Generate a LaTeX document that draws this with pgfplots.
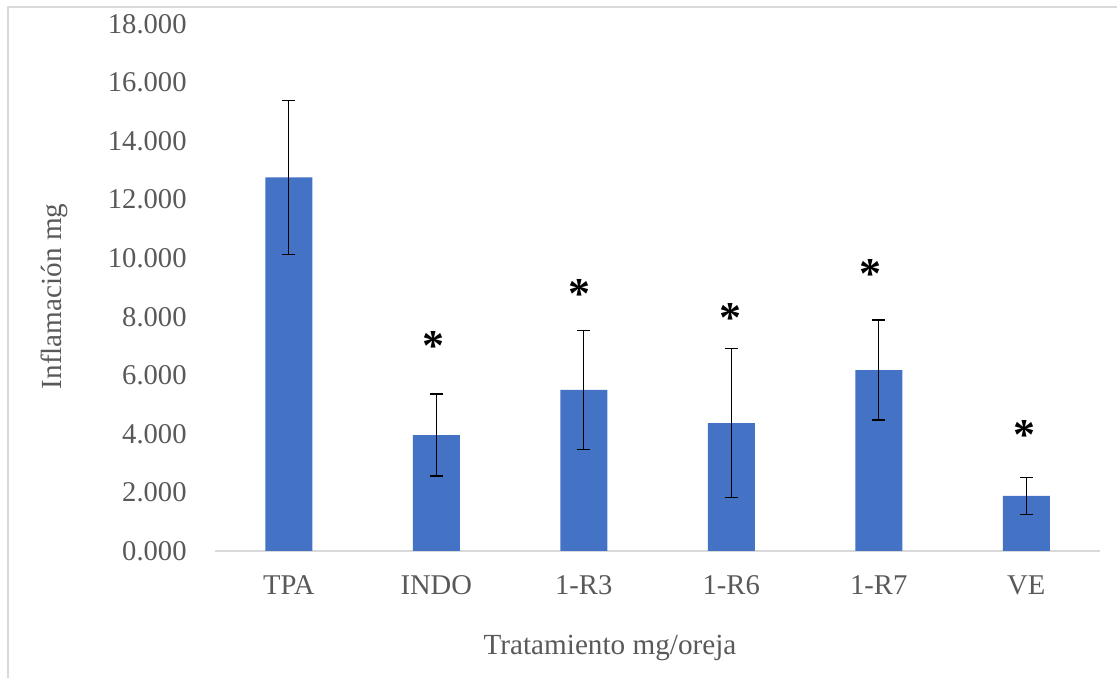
\documentclass[border=0pt]{standalone}
\usepackage{fontspec}
\setmainfont{Liberation Serif}
\usepackage{pgfplots}
\pgfplotsset{compat=1.18}
\definecolor{barblue}{HTML}{4472C4}
\definecolor{txt}{HTML}{595959}
\definecolor{axl}{HTML}{D9D9D9}
\begin{document}
\begin{tikzpicture}
\useasboundingbox (0,0) rectangle (558.5pt,339pt);
\draw[color=axl, line width=1.2pt] (4pt,0) -- (4pt,335.5pt) -- (558.5pt,335.5pt);
\begin{axis}[
  at={(107.5pt,63.5pt)}, anchor=south west,
  scale only axis, width=442.5pt, height=263.5pt,
  xmin=-0.5, xmax=5.5, ymin=0, ymax=18,
  ytick={0,2,...,18},
  xtick={0,...,5},
  xticklabels={TPA,INDO,1-R3,1-R6,1-R7,VE},
  axis x line*=bottom, axis y line*=left,
  x axis line style={color=axl, line width=1pt, -},
  y axis line style={draw=none},
  major tick length=0pt,
  tick style={draw=none},
  /pgf/number format/.cd, fixed, fixed zerofill, precision=3, use period, 1000 sep={}, assume math mode=true,
  /pgfplots/.cd,
  ticklabel style={font=\fontsize{14.3}{17}\selectfont, text=txt, inner sep=0pt},
  yticklabel style={anchor=east, xshift=-14pt},
  xticklabel style={anchor=north, yshift=-12pt},
  xlabel={Tratamiento mg/oreja},
  ylabel={Inflamación mg},
  label style={font=\fontsize{14.6}{17}\selectfont, text=txt, inner sep=0pt},
  xlabel style={at={(axis description cs:0.4463,0)}, anchor=north, yshift=-42pt},
  ylabel style={at={(axis description cs:-0.181,0.483)}, anchor=center, rotate=0},
  clip=false,
]
\addplot[ybar, bar width=23.5pt, fill=barblue, draw=none,
  error bars/.cd, y dir=both, y explicit,
  error bar style={black, line width=0.7pt},
  error mark options={black, rotate=90, mark size=3.3pt, line width=0.7pt}]
  coordinates {
  (0,12.76) +- (0,2.63)
  (1,3.96) +- (0,1.40)
  (2,5.50) +- (0,2.03)
  (3,4.37) +- (0,2.55)
  (4,6.18) +- (0,1.71)
  (5,1.88) +- (0,0.63)
  };
\addplot[draw=none, mark=none,
  nodes near coords={\textbf{*}},
  every node near coord/.style={anchor=center, inner sep=0pt, font=\fontsize{22}{24}\selectfont, text=black, yshift=-3.5pt}]
  coordinates {
  (0.978,7.24)
  (1.968,9.02)
  (2.992,8.21)
  (3.947,9.71)
  (4.985,4.20)
  };
\end{axis}
\end{tikzpicture}
\end{document}
